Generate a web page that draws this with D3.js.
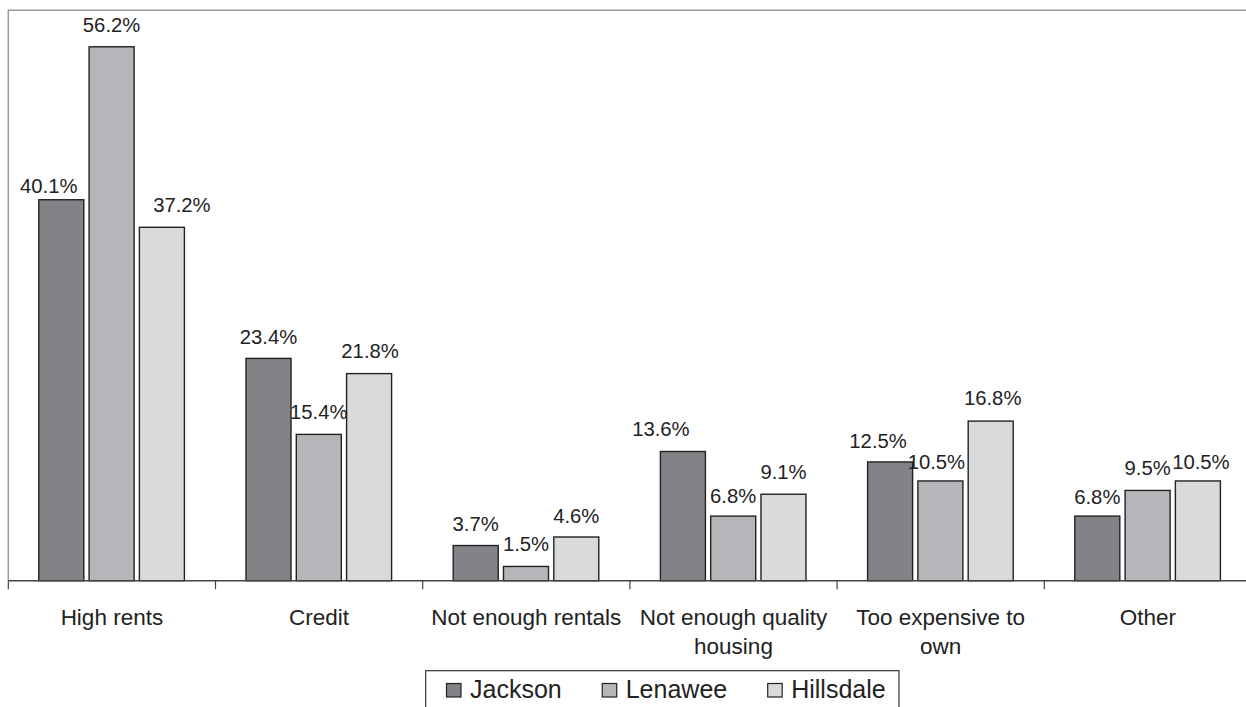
<!DOCTYPE html>
<html>
<head>
<meta charset="utf-8">
<script src="https://cdn.jsdelivr.net/npm/d3@7"></script>
<style>
  html, body { margin: 0; padding: 0; background: #fff; }
  svg { display: block; font-family: "Liberation Sans", Arial, sans-serif; }
</style>
</head>
<body>
<svg id="chart" width="1246" height="707"></svg>
<script>
const categories = ["High rents", "Credit", "Not enough rentals", "Not enough quality housing", "Too expensive to own", "Other"];
const seriesNames = ["Jackson", "Lenawee", "Hillsdale"];
const jackson  = [40.1, 23.4, 3.7, 13.6, 12.5, 6.8];
const lenawee  = [56.2, 15.4, 1.5, 6.8, 10.5, 9.5];
const hillsdale = [37.2, 21.8, 4.6, 9.1, 16.8, 10.5];
const seriesValues = [jackson, lenawee, hillsdale];
const colors = ["#838387", "#b5b6b9", "#d9dadc"];
// label nudges (Excel-style overlap avoidance), per series then category
const labelShiftX = [[-12.5, 0, 0, -22, -12, 0], [0, 0, 0, 0, -4, 0], [20, 1, 0, 0, 2, 3]];
const labelShiftY = [[8, 1, 0, -1, 1, 3], [0, 0, 0, 2, 3, 0], [0, -1, 1, 0, -1, 3]];

const svg = d3.select("#chart");
const x0Start = 8.3, band = 207.2;
const baseY = 580.7, topY = 10.7;

const x = d3.scaleBand().domain(categories).range([x0Start, x0Start + band * categories.length]).padding(0);
const xs = d3.scaleBand().domain(seriesNames).range([30.5, 30.5 + 145.6]).paddingInner(0.105).paddingOuter(0);
const y = d3.scaleLinear().domain([0, 60]).range([baseY, topY]);

// plot frame: top and left borders
svg.append("line").attr("x1", x0Start).attr("x2", 1246).attr("y1", topY - 0.5).attr("y2", topY - 0.5)
  .attr("stroke", "#9a9a9a").attr("stroke-width", 1.5);
svg.append("line").attr("x1", x0Start).attr("x2", x0Start).attr("y1", topY - 1).attr("y2", baseY)
  .attr("stroke", "#9a9a9a").attr("stroke-width", 1.5);

// bars
const data = [];
categories.forEach((c, i) => seriesNames.forEach((s, j) => data.push({c, s, v: seriesValues[j][i], i, j})));

const g = svg.append("g");
g.selectAll("rect.bar").data(data).join("rect")
  .attr("class", "bar")
  .attr("x", d => x(d.c) + xs(d.s))
  .attr("y", d => y(d.v))
  .attr("width", xs.bandwidth())
  .attr("height", d => baseY - y(d.v))
  .attr("fill", d => colors[d.j])
  .attr("stroke", "#222")
  .attr("stroke-width", 1.4);

g.selectAll("text.val").data(data).join("text")
  .attr("class", "val")
  .attr("x", d => x(d.c) + xs(d.s) + xs.bandwidth() / 2 + labelShiftX[d.j][d.i])
  .attr("y", d => y(d.v) - 15 + labelShiftY[d.j][d.i])
  .attr("text-anchor", "middle")
  .attr("font-size", "20.3px")
  .attr("fill", "#222")
  .text(d => d.v.toFixed(1) + "%");

// x axis
const axis = d3.axisBottom(x).tickSize(0).tickFormat("");
const ax = svg.append("g").attr("transform", `translate(0,${baseY})`).call(axis);
ax.select(".domain").remove();
svg.append("line").attr("x1", x0Start).attr("x2", 1246).attr("y1", baseY).attr("y2", baseY)
  .attr("stroke", "#444").attr("stroke-width", 1.4);
const bounds = categories.map(c => x(c)).concat([x.range()[1]]);
svg.selectAll("line.tick").data(bounds).join("line")
  .attr("class", "tick")
  .attr("x1", d => d).attr("x2", d => d)
  .attr("y1", baseY).attr("y2", baseY + 8.5)
  .attr("stroke", "#444").attr("stroke-width", 1.2);

// category labels with wrapping
const labels = svg.append("g");
categories.forEach(c => {
  const t = labels.append("text")
    .attr("x", x(c) + band / 2)
    .attr("y", 625)
    .attr("text-anchor", "middle")
    .attr("font-size", "22.5px")
    .attr("fill", "#222");
  const words = c.split(" ");
  let line = [];
  let tspan = t.append("tspan").attr("x", x(c) + band / 2).attr("dy", 0);
  words.forEach(w => {
    line.push(w);
    tspan.text(line.join(" "));
    if (tspan.node().getComputedTextLength() > band - 6 && line.length > 1) {
      line.pop();
      tspan.text(line.join(" "));
      line = [w];
      tspan = t.append("tspan").attr("x", x(c) + band / 2).attr("dy", 28.5).text(w);
    }
  });
});

// legend
const leg = svg.append("g");
leg.append("rect").attr("x", 425.7).attr("y", 670.7).attr("width", 473.3).attr("height", 60)
  .attr("fill", "#fff").attr("stroke", "#333").attr("stroke-width", 1.2);
let lx = 446.5;
seriesNames.forEach((s, j) => {
  leg.append("rect").attr("x", lx).attr("y", 683.5).attr("width", 14.5).attr("height", 13.5)
    .attr("fill", colors[j]).attr("stroke", "#222").attr("stroke-width", 1.2);
  const t = leg.append("text").attr("x", lx + 23.5).attr("y", 698)
    .attr("font-size", "25px").attr("fill", "#222").text(s);
  lx = lx + 23.5 + t.node().getComputedTextLength() + 40.5;
});
</script>
</body>
</html>
